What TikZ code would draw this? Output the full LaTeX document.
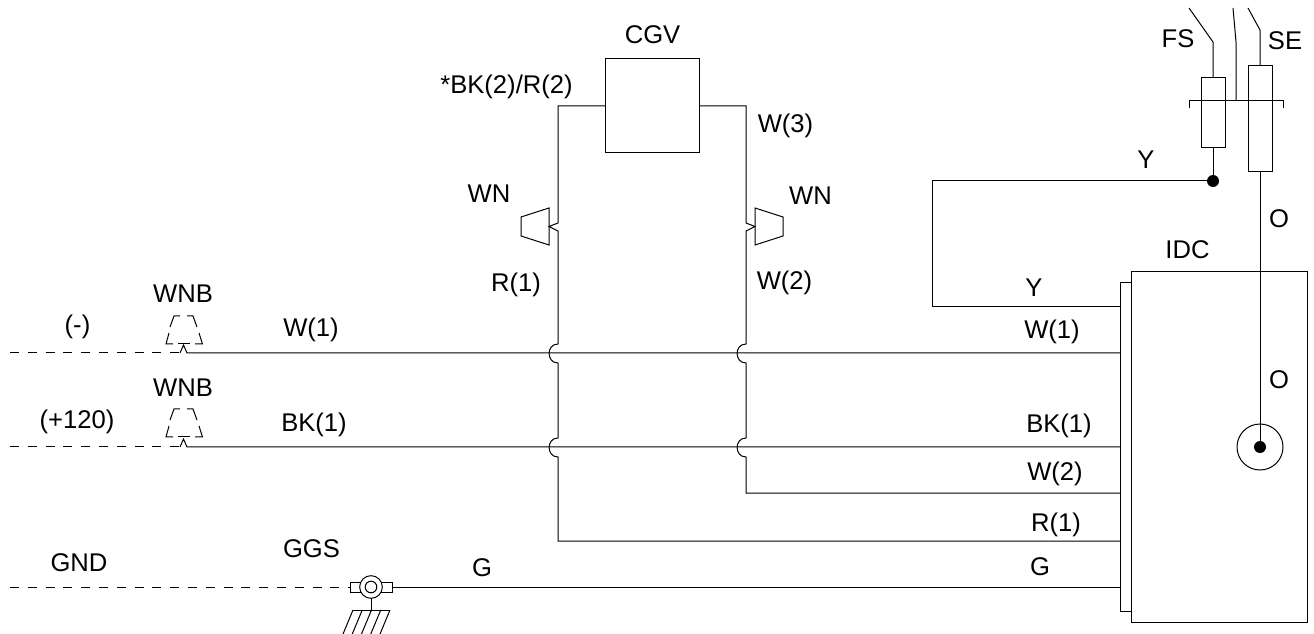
\documentclass[tikz,border=0pt]{standalone}
\usepackage{fontspec}
\setmainfont{Liberation Sans}

\tikzset{
	wire/.style={line width=0.75pt},
	dashwire/.style={line width=0.75pt, dash pattern=on 6.75pt off 6.6pt},
	partbox/.style={draw, line width=0.75pt, inner sep=0pt, outer sep=0pt},
	ringmark/.style={draw, circle, line width=0.75pt, inner sep=0pt, outer sep=0pt},
	dotmark/.style={fill, circle, inner sep=0pt, outer sep=0pt, minimum size=9pt},
	lbl/.style={inner sep=0pt, anchor=base, font=\fontsize{19.2}{21}\selectfont},
	hopleft/.style={out=180, in=180, looseness=1.6}
}

\begin{document}
\begin{tikzpicture}[x=0.75pt, y=-0.75pt]
		\useasboundingbox (0,0) rectangle (1314,634);

		\node[partbox, minimum width=70.5pt, minimum height=70.5pt] (cgv) at (652,106) {};
		\node[partbox, minimum width=8.25pt, minimum height=246pt] (strip) at (1125.5,447) {};
		\node[partbox, minimum width=132pt, minimum height=262.5pt] (idc) at (1219,447) {};
		\node[partbox, minimum width=18pt, minimum height=52.5pt] (fs) at (1213,113) {};
		\node[partbox, minimum width=18pt, minimum height=79.5pt] (se) at (1260,119) {};
		\node[ringmark, minimum size=34.5pt] (ring) at (1260,447) {};
		\node[dotmark] (ringdot) at (1260,447) {};
		\node[dotmark] (ydot) at (1213,181) {};

		\coordinate (fsbend) at (1213,42);
		\coordinate (fstop) at (1189,8);
		\coordinate (midbar) at (1236,101);
		\coordinate (midbend) at (1236,42);
		\coordinate (midtop) at (1233,8);
		\coordinate (sebend) at (1260,30);
		\coordinate (setop) at (1248,8);
		\coordinate (barl) at (1189,108);
		\coordinate (barlt) at (1189,101);
		\coordinate (barr) at (1283,108);
		\coordinate (barrt) at (1283,101);

		\draw[wire] (fs.north) -- (fsbend) -- (fstop);
		\draw[wire] (fs.south) -- (ydot);
		\draw[wire] (midbar) -- (midbend) -- (midtop);
		\draw[wire] (se.north) -- (sebend) -- (setop);
		\draw[wire] (se.south) -- (ringdot);
		\draw[wire] (barl) -- (barlt) -- (barrt) -- (barr);

		\coordinate (ybend) at (932,181);
		\coordinate (yelbow) at (932,307);
		\coordinate (yend) at (1120,307);
		\draw[wire] (ydot) -- (ybend) -- (yelbow) -- (yend);

		\coordinate (wstart) at (10,353);
		\coordinate (wnotcha) at (180,353);
		\coordinate (wapex) at (183.5,345);
		\coordinate (wnotchb) at (187,353);
		\coordinate (wend) at (1120,353);
		\draw[dashwire] (wstart) -- (wnotcha);
		\draw[wire] (wnotcha) -- (wapex) -- (wnotchb) -- (wend);

		\coordinate (bkstart) at (10,447);
		\coordinate (bknotcha) at (180,447);
		\coordinate (bkapex) at (183.5,439);
		\coordinate (bknotchb) at (187,447);
		\coordinate (bkend) at (1120,447);
		\draw[dashwire] (bkstart) -- (bknotcha);
		\draw[wire] (bknotcha) -- (bkapex) -- (bknotchb) -- (bkend);

		\draw[wire] (180,316) -- (174,316) -- (170,327);
		\draw[wire] (169,333) -- (166,344) -- (173,344);
		\draw[wire] (178,344) -- (190,344);
		\draw[wire] (195,344) -- (202.5,344) -- (199,333);
		\draw[wire] (197,327) -- (193,316) -- (187,316);

		\draw[wire] (180,409) -- (174,409) -- (170,420);
		\draw[wire] (169,426) -- (166,437) -- (173,437);
		\draw[wire] (178,437) -- (190,437);
		\draw[wire] (195,437) -- (202.5,437) -- (199,426);
		\draw[wire] (197,420) -- (193,409) -- (187,409);

		\coordinate (rcorner) at (558,106);
		\coordinate (rtaba) at (558,223);
		\coordinate (rtip) at (549,226.5);
		\coordinate (rtabb) at (558,231);
		\coordinate (rhopa) at (558,344);
		\coordinate (rhopb) at (558,363);
		\coordinate (rhopc) at (558,438);
		\coordinate (rhopd) at (558,457);
		\coordinate (rbend) at (558,541);
		\coordinate (rend) at (1120,541);
		\draw[wire] (cgv.west |- rcorner) -- (rcorner) -- (rtaba) -- (rtip) -- (rtabb) -- (rhopa)
			to[hopleft] (rhopb) -- (rhopc) to[hopleft] (rhopd) -- (rbend) -- (rend);

		\coordinate (wcorner) at (746,106);
		\coordinate (wtaba) at (746,223);
		\coordinate (wtip) at (755,226.5);
		\coordinate (wtabb) at (746,231);
		\coordinate (whopa) at (746,344);
		\coordinate (whopb) at (746,363);
		\coordinate (whopc) at (746,438);
		\coordinate (whopd) at (746,457);
		\coordinate (wbend) at (746,493);
		\coordinate (wtwo) at (1120,493);
		\draw[wire] (cgv.east |- wcorner) -- (wcorner) -- (wtaba) -- (wtip) -- (wtabb) -- (whopa)
			to[hopleft] (whopb) -- (whopc) to[hopleft] (whopd) -- (wbend) -- (wtwo);

		\draw[wire] (549,208) -- (549,245) -- (521,236) -- (521,217) -- cycle;
		\draw[wire] (755,208) -- (755,245) -- (783,236) -- (783,217) -- cycle;

		\coordinate (gstart) at (10,587);
		\coordinate (gend) at (1120,587);
		\coordinate (ghatch) at (371,610);
		\node[partbox, minimum width=31.5pt, minimum height=7.5pt] (clamp) at (371,587) {};
		\node[ringmark, fill=white, minimum size=17pt] (clampo) at (371,587) {};
		\node[ringmark, minimum size=8.7pt] (clampi) at (371,587) {};
		\draw[dashwire] (gstart) -- (clamp.west);
		\draw[wire] (clamp.east) -- (gend);
		\draw[wire] (clampo.south) -- (ghatch);
		\draw[wire] (353,610) -- (390,610);
		\draw[wire] (353,610) -- (343,634);
		\draw[wire] (362.25,610) -- (352.25,634);
		\draw[wire] (371.5,610) -- (361.5,634);
		\draw[wire] (380.75,610) -- (370.75,634);
		\draw[wire] (390,610) -- (380,634);

		\node[lbl] (lcgv) at (652.5,44) {CGV};
		\node[lbl] (lbkr) at (506.5,94) {*BK(2)/R(2)};
		\node[lbl] (lwthree) at (785.5,133) {W(3)};
		\node[lbl] (lwnl) at (489,203) {WN};
		\node[lbl] (lwnr) at (810.5,205) {WN};
		\node[lbl] (lrone) at (516,292) {R(1)};
		\node[lbl] (lwtwo) at (784.5,290) {W(2)};
		\node[lbl] (lfs) at (1178,48) {FS};
		\node[lbl] (lse) at (1285,50) {SE};
		\node[lbl] (lytop) at (1146,169) {Y};
		\node[lbl] (lotop) at (1279,228) {O};
		\node[lbl] (lidc) at (1187.5,259) {IDC};
		\node[lbl] (lylow) at (1034,297) {Y};
		\node[lbl] (lwoner) at (1052,339) {W(1)};
		\node[lbl] (lolow) at (1279,389) {O};
		\node[lbl] (lbkr2) at (1059,433) {BK(1)};
		\node[lbl] (lwtwor) at (1055,480) {W(2)};
		\node[lbl] (lroner) at (1056,531) {R(1)};
		\node[lbl] (lgr) at (1040,575) {G};
		\node[lbl] (lgl) at (482,576) {G};
		\node[lbl] (lggs) at (311.5,557) {GGS};
		\node[lbl] (lgnd) at (79,571) {GND};
		\node[lbl] (lminus) at (77.5,334) {(-)};
		\node[lbl] (lwnba) at (183,303) {WNB};
		\node[lbl] (lwnbb) at (183,397) {WNB};
		\node[lbl] (lwonel) at (311,337) {W(1)};
		\node[lbl] (lplus) at (77,429) {(+120)};
		\node[lbl] (lbkl) at (314,432) {BK(1)};
\end{tikzpicture}
\end{document}
